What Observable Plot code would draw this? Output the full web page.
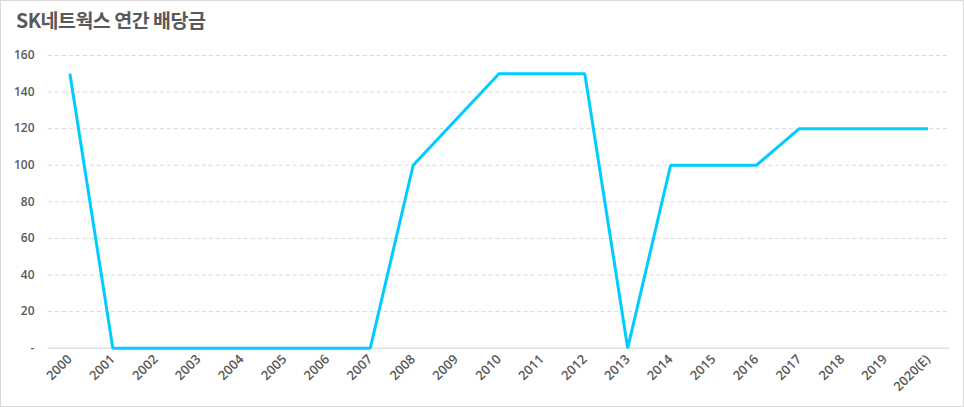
<!DOCTYPE html>
<html><head><meta charset="utf-8">
<script src="https://cdn.jsdelivr.net/npm/d3@7"></script>
<script src="https://cdn.jsdelivr.net/npm/@observablehq/plot@0.6"></script>
<style>
body{margin:0;background:#fff;}
#wrap{position:relative;width:964px;height:407px;box-sizing:border-box;border:1px solid #d9d9d9;overflow:hidden;}
#title{position:absolute;left:15px;top:4px;font-family:"Noto Sans CJK KR","Noto Sans",sans-serif;font-weight:700;font-size:19.5px;color:#595959;letter-spacing:-0.5px;}
#chart{position:absolute;left:-1px;top:39px;}
</style></head>
<body>
<div id="wrap"><div id="title">SK네트웍스 연간 배당금</div><div id="chart"></div></div>
<script>
const years = ["2000","2001","2002","2003","2004","2005","2006","2007","2008","2009","2010","2011","2012","2013","2014","2015","2016","2017","2018","2019","2020(E)"];
const dividends = [150,0,0,0,0,0,0,0,100,125,150,150,150,0,100,100,100,120,120,120,120];
const yTicks = [0,20,40,60,80,100,120,140,160];

const data = years.map((y,i)=>({year:y, value:dividends[i]}));

const chart = Plot.plot({
  width: 964,
  height: 367,
  marginLeft: 48,
  marginRight: 14,
  marginTop: 15,
  marginBottom: 59,
  style: {fontFamily: "'Open Sans', sans-serif", fontSize: "12px", color: "#595959", background: "transparent"},
  x: {type: "point", domain: years, padding: 0.5, round: false, label: null},
  y: {domain: [0,160], label: null},
  marks: [
    Plot.ruleY(yTicks.filter(d=>d>0), {stroke:"#d9d9d9", strokeDasharray:"4,3"}),
    Plot.ruleY([0], {stroke:"#d0d0d0", strokeWidth:1}),
    Plot.axisY({ticks: yTicks, tickSize:0, tickPadding:14, tickFormat: d => d===0 ? "-" : d, fontWeight:600, label:null}),
    Plot.axisX({tickSize:0, tickPadding:9, tickRotate:-45, fontSize:13, fontWeight:600, label:null}),
    Plot.line(data, {x:"year", y:"value", stroke:"#00ccff", strokeWidth:3, strokeLinejoin:"miter", strokeLinecap:"butt"})
  ]
});
document.getElementById("chart").appendChild(chart);
</script>
</body></html>
